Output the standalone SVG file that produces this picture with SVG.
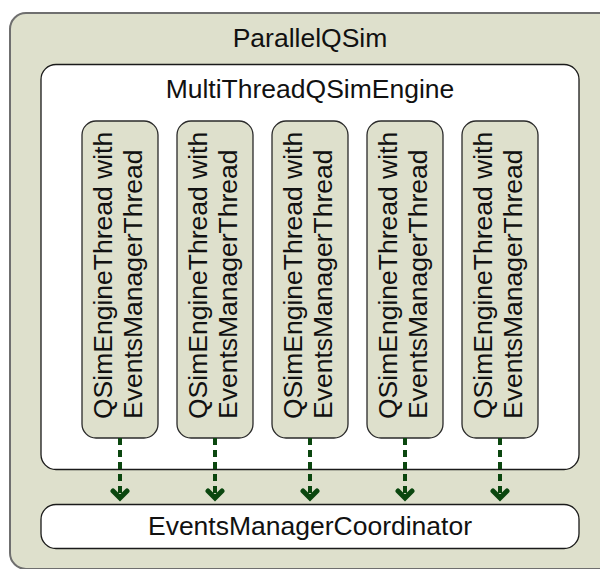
<svg xmlns="http://www.w3.org/2000/svg" width="600" height="569" viewBox="0 0 600 569">
  <style>
    .lbl { font-family: "Liberation Sans", Arial, sans-serif; font-size: 26.5px; fill: #111; }
    .mid { text-anchor: middle; }
    .outer { fill: #dee0cc; stroke: #6f6f6f; stroke-width: 2; }
    .panel { fill: #ffffff; stroke: #1a1a1a; stroke-width: 1.3; }
    .thread { fill: #dee0cc; stroke: #2a2a2a; stroke-width: 1.3; }
    .flow { fill: none; stroke: #0b470f; stroke-width: 4; stroke-dasharray: 7 5; }
    .head { fill: none; stroke: #0b470f; stroke-width: 5; stroke-linecap: round; stroke-linejoin: miter; }
  </style>

  <g id="parallel-qsim">
    <rect class="outer" x="10" y="13" width="620" height="556" rx="16"/>
    <text class="lbl mid" x="310" y="47">ParallelQSim</text>
  </g>

  <g id="multithread-engine">
    <rect class="panel" x="41" y="64.5" width="538" height="405" rx="15"/>
    <text class="lbl mid" x="310" y="98">MultiThreadQSimEngine</text>
  </g>

  <g id="thread-1">
    <rect class="thread" x="82" y="121" width="76" height="317" rx="14"/>
    <text class="lbl" transform="translate(112 419) rotate(-90)">QSimEngineThread with</text>
    <text class="lbl" transform="translate(142 419) rotate(-90)">EventsManagerThread</text>
  </g>
  <g id="thread-2">
    <rect class="thread" x="177" y="121" width="76" height="317" rx="14"/>
    <text class="lbl" transform="translate(207 419) rotate(-90)">QSimEngineThread with</text>
    <text class="lbl" transform="translate(237 419) rotate(-90)">EventsManagerThread</text>
  </g>
  <g id="thread-3">
    <rect class="thread" x="272" y="121" width="76" height="317" rx="14"/>
    <text class="lbl" transform="translate(302 419) rotate(-90)">QSimEngineThread with</text>
    <text class="lbl" transform="translate(332 419) rotate(-90)">EventsManagerThread</text>
  </g>
  <g id="thread-4">
    <rect class="thread" x="367" y="121" width="76" height="317" rx="14"/>
    <text class="lbl" transform="translate(397 419) rotate(-90)">QSimEngineThread with</text>
    <text class="lbl" transform="translate(427 419) rotate(-90)">EventsManagerThread</text>
  </g>
  <g id="thread-5">
    <rect class="thread" x="462" y="121" width="76" height="317" rx="14"/>
    <text class="lbl" transform="translate(492 419) rotate(-90)">QSimEngineThread with</text>
    <text class="lbl" transform="translate(522 419) rotate(-90)">EventsManagerThread</text>
  </g>

  <g id="coordinator">
    <rect class="panel" x="41" y="504.5" width="538" height="44" rx="15"/>
    <text class="lbl mid" x="310" y="535">EventsManagerCoordinator</text>
  </g>

  <g id="connectors">
    <path class="flow" d="M120 438 V498 M215 438 V498 M310 438 V498 M405 438 V498 M500 438 V498"/>
    <path class="head" d="M113 491 L120 498 L127 491 M208 491 L215 498 L222 491 M303 491 L310 498 L317 491 M398 491 L405 498 L412 491 M493 491 L500 498 L507 491"/>
  </g>
</svg>
